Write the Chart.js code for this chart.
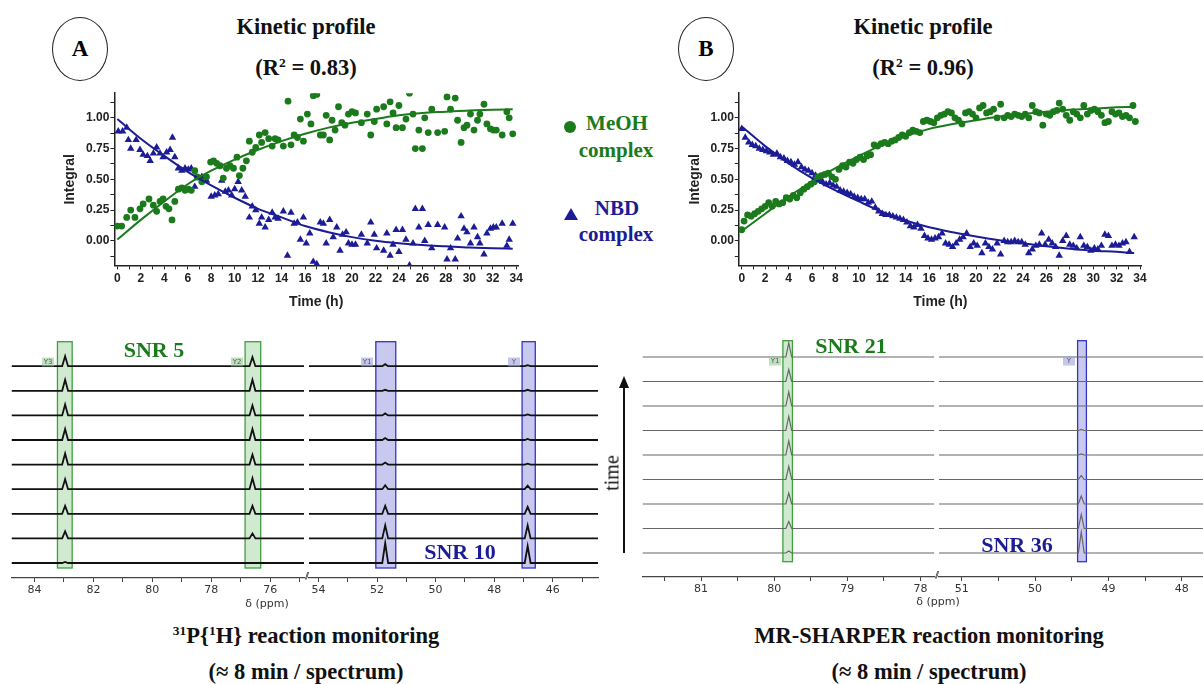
<!DOCTYPE html>
<html>
<head>
<meta charset="utf-8">
<script src="https://cdn.jsdelivr.net/npm/chart.js@4.4.1/dist/chart.umd.min.js"></script>
<style>
  body { margin: 0; background: #fff; }
  #page { position: relative; width: 1203px; height: 684px; overflow: hidden; background: #fff; }
  canvas { position: absolute; }
  .t { position: absolute; transform: translate(-50%, -50%); white-space: nowrap;
       font-family: "Liberation Serif", serif; font-weight: bold; color: #111; }
  .t sup { font-size: 60%; vertical-align: 0.6em; line-height: 0; }
  .big { font-size: 22.5px; }
  .leg { font-size: 21px; }
  .snr { font-size: 22px; }
  .green { color: #1b7a1b; }
  .blue { color: #1c1c96; }
  .ring { position: absolute; width: 54px; height: 62px; border: 1.3px solid #222; border-radius: 50%;
          transform: translate(-50%, -50%); font-family: "Liberation Serif", serif; font-weight: bold;
          font-size: 23px; display: flex; align-items: center; justify-content: center; }
  .ppm { position: absolute; transform: translate(-50%, -50%); font-family: "DejaVu Sans", sans-serif;
         font-size: 11px; color: #333; white-space: nowrap; }
  .tag { position: absolute; transform: translate(-50%, -50%); font-family: "DejaVu Sans", sans-serif;
         font-size: 7px; color: #555; width: 12px; height: 9px; line-height: 9px; text-align: center; }
  .tg { background: rgba(140, 200, 140, 0.55); }
  .tb { background: rgba(160, 160, 225, 0.6); }
</style>
</head>
<body>
<div id="page">
  <div class="ring" style="left:80px;top:49px;">A</div>
  <div class="ring" style="left:706px;top:49px;">B</div>
  <div class="t big" style="left:306px;top:27px;">Kinetic profile</div>
  <div class="t big" style="left:306px;top:68px;">(R<sup>2</sup> = 0.83)</div>
  <div class="t big" style="left:923px;top:27px;">Kinetic profile</div>
  <div class="t big" style="left:923px;top:68px;">(R<sup>2</sup> = 0.96)</div>

  <div style="position:absolute;left:564px;top:121px;width:12px;height:12px;border-radius:50%;background:#1b7a1b;"></div>
  <div class="t leg green" style="left:617px;top:123px;">MeOH</div>
  <div class="t leg green" style="left:616px;top:150px;">complex</div>
  <div style="position:absolute;left:564px;top:208px;width:0;height:0;border-left:7px solid transparent;border-right:7px solid transparent;border-bottom:12px solid #1c1c96;"></div>
  <div class="t leg blue" style="left:617px;top:208px;">NBD</div>
  <div class="t leg blue" style="left:616px;top:234px;">complex</div>

  <canvas id="kinA" width="482" height="230" style="left:58px;top:85px;width:482px;height:230px;"></canvas>
  <canvas id="kinB" width="482" height="230" style="left:683px;top:85px;width:482px;height:230px;"></canvas>

  <canvas id="specA1" width="310" height="270" style="left:0px;top:330px;width:310px;height:270px;"></canvas>
  <canvas id="specA2" width="300" height="270" style="left:304px;top:330px;width:300px;height:270px;"></canvas>
  <canvas id="specB1" width="304" height="270" style="left:636px;top:330px;width:304px;height:270px;"></canvas>
  <canvas id="specB2" width="269" height="270" style="left:934px;top:330px;width:269px;height:270px;"></canvas>

  <div class="tag tg" style="left:48px;top:362px;">Y3</div>
  <div class="tag tg" style="left:237px;top:362px;">Y2</div>
  <div class="tag tb" style="left:367px;top:362px;">Y1</div>
  <div class="tag tb" style="left:514px;top:362px;">Y</div>
  <div class="tag tg" style="left:775px;top:361px;">Y1</div>
  <div class="tag tb" style="left:1069px;top:361px;">Y</div>

  <div class="t snr green" style="left:154px;top:350px;">SNR 5</div>
  <div class="t snr blue" style="left:460px;top:552px;">SNR 10</div>
  <div class="t snr green" style="left:851px;top:346px;">SNR 21</div>
  <div class="t snr blue" style="left:1017px;top:545px;">SNR 36</div>

  <div class="ppm" style="left:306px;top:576px;font-size:9px;letter-spacing:-2px;">//</div>
  <div class="ppm" style="left:936px;top:575px;font-size:9px;letter-spacing:-2px;">//</div>
  <div class="ppm" style="left:267px;top:603px;">δ (ppm)</div>
  <div class="ppm" style="left:938px;top:601px;">δ (ppm)</div>

  <div style="position:absolute;left:623px;top:386px;width:1.5px;height:167px;background:#111;"></div>
  <div style="position:absolute;left:619px;top:376px;width:0;height:0;border-left:5px solid transparent;border-right:5px solid transparent;border-bottom:12px solid #111;"></div>
  <div class="t" style="left:612px;top:473px;font-size:20px;font-weight:normal;transform:translate(-50%,-50%) rotate(-90deg);">time</div>

  <div class="t big" style="left:306px;top:636px;"><sup>31</sup>P{<sup>1</sup>H} reaction monitoring</div>
  <div class="t big" style="left:306px;top:672px;">(≈ 8 min / spectrum)</div>
  <div class="t big" style="left:929px;top:636px;">MR-SHARPER reaction monitoring</div>
  <div class="t big" style="left:929px;top:672px;">(≈ 8 min / spectrum)</div>
</div>

<script>
"use strict";

// 1: kinetic data, [time (h), integral]
const meohA = [[0,0.12],[0.37,0.12],[0.8,0.19],[1.14,0.25],[1.5,0.19],[1.93,0.26],[2.2,0.30],[2.7,0.34],
  [3.07,0.29],[3.35,0.24],[3.64,0.32],[3.9,0.34],[4.15,0.28],[4.4,0.26],[4.66,0.17],[4.9,0.32],[5.2,0.42],
  [5.5,0.43],[5.77,0.41],[6.05,0.42],[6.3,0.41],[6.6,0.57],[6.8,0.52],[7.2,0.48],[7.6,0.52],[7.95,0.64],
  [8.2,0.65],[8.47,0.63],[8.75,0.61],[9.03,0.51],[9.3,0.59],[9.6,0.61],[9.9,0.59],[10.2,0.68],[10.4,0.53],
  [10.7,0.59],[11.0,0.65],[11.25,0.81],[11.5,0.72],[11.8,0.76],[12.1,0.86],[12.3,0.80],[12.6,0.88],[12.9,0.83],
  [13.2,0.77],[13.45,0.83],[13.7,0.82],[14.15,0.77],[14.55,1.135],[14.8,0.78],[15.07,0.86],[15.35,0.84],
  [15.6,0.99],[15.86,0.81],[16.2,1.03],[16.5,0.95],[16.7,1.18],[17.0,1.19],[17.3,0.86],[17.56,0.86],[17.8,1.02],
  [18.1,0.82],[18.3,0.98],[18.56,0.90],[18.85,1.09],[19.13,0.96],[19.4,0.94],[19.7,1.03],[20.0,1.05],[20.3,1.04],
  [20.8,0.96],[21.3,1.03],[21.6,0.86],[21.9,0.97],[22.1,1.07],[22.7,1.09],[22.97,0.95],[23.25,1.13],[23.5,1.04],
  [23.76,0.92],[24.0,1.10],[24.3,0.92],[24.6,0.99],[24.9,1.2],[25.2,1.03],[25.4,0.75],[25.7,0.90],[26.0,0.75],
  [26.2,1.0],[26.5,0.88],[26.8,1.07],[27.3,0.88],[27.9,0.89],[28.1,1.17],[28.4,1.07],[28.8,1.16],[29.0,0.98],
  [29.3,0.80],[29.55,0.92],[29.8,0.94],[30.1,1.03],[30.4,0.90],[30.7,0.98],[30.9,1.03],[31.25,1.11],[31.5,0.95],
  [31.8,0.91],[32.05,0.90],[32.3,0.90],[32.8,0.86],[33.2,1.05],[33.4,1.0],[33.7,0.87]];

const nbdA = [[0.08,0.89],[0.45,0.89],[0.8,0.92],[0.94,0.82],[1.14,0.75],[1.6,0.82],[1.93,0.74],[2.2,0.70],
  [2.56,0.69],[2.8,0.65],[3.07,0.71],[3.35,0.76],[3.64,0.71],[3.9,0.68],[4.2,0.72],[4.5,0.74],[4.7,0.84],
  [4.9,0.68],[5.2,0.59],[5.5,0.57],[5.77,0.59],[6.05,0.58],[6.3,0.59],[6.6,0.44],[6.9,0.51],[7.2,0.52],
  [7.6,0.49],[8.0,0.36],[8.3,0.37],[8.6,0.38],[8.9,0.49],[9.2,0.40],[9.47,0.41],[9.75,0.37],[10.0,0.42],
  [10.3,0.48],[10.6,0.41],[10.9,0.36],[11.25,0.19],[11.5,0.28],[11.8,0.25],[12.1,0.14],[12.3,0.19],[12.6,0.11],
  [12.9,0.17],[13.2,0.23],[13.45,0.19],[13.7,0.18],[14.15,0.24],[14.5,-0.12],[14.8,0.23],[15.07,0.14],
  [15.35,0.15],[15.6,0.01],[15.86,0.19],[16.1,-0.02],[16.4,0.06],[16.7,-0.17],[17.0,-0.19],[17.3,0.15],
  [17.56,0.14],[17.8,-0.02],[18.1,0.17],[18.4,0.03],[18.7,0.11],[18.98,-0.08],[19.2,0.05],[19.5,0.07],
  [19.7,-0.02],[20.0,-0.03],[20.3,-0.03],[20.8,0.05],[21.3,-0.02],[21.6,0.15],[21.9,0.05],[22.1,-0.06],
  [22.7,-0.08],[22.97,0.06],[23.25,-0.12],[23.5,-0.03],[23.76,0.09],[24.0,-0.09],[24.3,0.09],[24.6,0.01],
  [24.9,-0.2],[25.2,-0.02],[25.4,0.26],[25.7,0.11],[26.0,0.26],[26.2,0.0],[26.5,0.13],[26.8,-0.06],[27.3,0.13],
  [27.9,0.11],[28.1,-0.15],[28.4,-0.06],[28.8,-0.15],[29.0,0.02],[29.3,0.20],[29.55,0.10],[29.8,0.07],
  [30.1,-0.02],[30.4,0.11],[30.7,0.03],[30.9,-0.02],[31.25,-0.11],[31.5,0.06],[31.8,0.10],[32.05,0.11],
  [32.3,0.11],[32.8,0.14],[33.2,-0.04],[33.4,0.01],[33.7,0.14]];

const meohB = [[0,0.09],[0.2,0.16],[0.5,0.21],[0.8,0.20],[1.1,0.22],[1.4,0.24],[1.7,0.26],[2.0,0.28],[2.3,0.31],
  [2.6,0.28],[2.9,0.32],[3.2,0.30],[3.5,0.31],[3.8,0.35],[4.1,0.34],[4.4,0.37],[4.7,0.35],[5.0,0.39],[5.3,0.42],
  [5.6,0.44],[5.9,0.46],[6.2,0.48],[6.5,0.52],[6.8,0.53],[7.1,0.54],[7.4,0.55],[7.7,0.52],[8.0,0.50],[8.3,0.58],
  [8.6,0.61],[8.9,0.60],[9.2,0.64],[9.5,0.63],[9.8,0.66],[10.1,0.68],[10.4,0.66],[10.7,0.69],[11.0,0.70],
  [11.3,0.78],[11.6,0.77],[11.9,0.79],[12.2,0.80],[12.5,0.79],[12.8,0.81],[13.1,0.82],[13.4,0.84],[13.7,0.86],
  [14.0,0.85],[14.3,0.88],[14.6,0.90],[14.9,0.89],[15.2,0.88],[15.5,0.97],[15.8,0.98],[16.1,0.97],[16.4,0.96],
  [16.7,1.00],[17.0,1.02],[17.3,1.03],[17.6,1.05],[17.9,1.04],[18.2,1.00],[18.5,0.98],[18.8,0.95],[19.1,1.04],
  [19.4,1.05],[19.7,1.03],[20.0,1.00],[20.3,1.08],[20.6,1.10],[20.9,1.04],[21.2,1.05],[21.5,1.07],[21.8,1.00],
  [22.1,1.11],[22.4,1.00],[22.7,1.02],[23.0,1.01],[23.3,1.03],[23.6,1.02],[23.9,1.01],[24.2,1.03],[24.5,1.00],
  [24.8,1.10],[25.1,1.05],[25.4,1.04],[25.7,0.94],[26.0,1.03],[26.3,1.02],[26.6,1.05],[26.9,1.06],[27.1,1.12],
  [27.4,1.07],[27.7,1.02],[28.0,0.98],[28.3,1.05],[28.6,1.03],[28.9,1.00],[29.2,1.10],[29.5,1.03],[29.8,1.06],
  [30.1,1.07],[30.4,1.05],[30.7,1.02],[31.0,0.96],[31.3,0.97],[31.6,1.05],[31.9,1.03],[32.2,1.04],[32.5,1.01],
  [32.8,1.02],[33.1,1.00],[33.4,1.10],[33.6,0.97]];

const nbdB = [[0,0.91],[0.3,0.84],[0.6,0.80],[0.9,0.78],[1.2,0.77],[1.5,0.75],[1.8,0.74],[2.1,0.73],[2.4,0.72],
  [2.7,0.70],[3.0,0.71],[3.3,0.68],[3.6,0.67],[3.9,0.65],[4.2,0.64],[4.5,0.62],[4.8,0.64],[5.1,0.60],[5.4,0.58],
  [5.7,0.57],[6.0,0.55],[6.3,0.53],[6.6,0.50],[6.9,0.48],[7.2,0.46],[7.5,0.47],[7.8,0.45],[8.1,0.44],[8.4,0.41],
  [8.7,0.40],[9.0,0.39],[9.3,0.38],[9.6,0.36],[9.9,0.35],[10.2,0.34],[10.5,0.34],[10.8,0.31],[11.1,0.32],
  [11.4,0.27],[11.7,0.24],[12.0,0.22],[12.3,0.21],[12.6,0.21],[12.9,0.20],[13.2,0.19],[13.5,0.18],[13.8,0.17],
  [14.1,0.15],[14.4,0.12],[14.7,0.11],[15.0,0.13],[15.3,0.10],[15.6,0.04],[15.9,0.02],[16.2,0.01],[16.5,0.02],
  [16.8,0.03],[17.1,0.06],[17.4,-0.02],[17.7,-0.03],[18.0,-0.05],[18.3,-0.02],[18.6,0.01],[18.9,0.03],[19.2,0.06],
  [19.5,-0.05],[19.8,-0.02],[20.1,-0.04],[20.5,-0.10],[20.8,-0.02],[21.1,-0.05],[21.4,-0.07],[21.8,-0.02],
  [22.1,-0.11],[22.4,0.00],[22.7,-0.01],[23.0,-0.01],[23.3,0.00],[23.6,-0.01],[23.9,-0.01],[24.2,-0.03],
  [24.5,-0.10],[24.8,-0.07],[25.1,-0.04],[25.4,-0.03],[25.6,0.06],[25.9,-0.03],[26.2,0.01],[26.5,-0.02],
  [26.8,-0.05],[27.1,-0.12],[27.4,0.00],[27.7,0.04],[28.0,-0.03],[28.3,-0.04],[28.6,-0.06],[28.9,0.03],
  [29.2,-0.04],[29.5,-0.05],[29.8,-0.08],[30.1,-0.06],[30.4,-0.07],[30.7,-0.04],[31.0,0.05],[31.3,0.04],
  [31.6,-0.04],[31.9,-0.03],[32.2,-0.04],[32.5,-0.02],[32.8,-0.01],[33.1,-0.09],[33.5,0.03]];

// 2: fitted curves
const fitTimeA = [0,2,4,6,8,10,12,14,16,18,20,22,24,26,28,30,32,33.7];
const fitMeohA = [0.01,0.17,0.32,0.46,0.57,0.66,0.74,0.81,0.87,0.92,0.96,0.99,1.02,1.04,1.05,1.06,1.065,1.07];
const fitNbdA = [0.99,0.83,0.69,0.56,0.45,0.35,0.26,0.19,0.12,0.07,0.03,0.0,-0.02,-0.035,-0.045,-0.055,-0.06,-0.065];
const fitTimeB = [0,2,4,6,8,10,12,14,16,18,20,22,24,26,28,30,32,33.5];
const fitMeohB = [0.08,0.22,0.36,0.48,0.59,0.69,0.78,0.85,0.91,0.95,0.98,1.01,1.03,1.05,1.065,1.075,1.085,1.09];
const fitNbdB = [0.93,0.77,0.63,0.51,0.41,0.32,0.235,0.165,0.11,0.07,0.035,0.005,-0.02,-0.045,-0.065,-0.08,-0.09,-0.10];

// 3: spectra, peak positions (ppm) and peak heights per spectrum, first = earliest (bottom)
const peakY3A = 82.96, peakY2A = 76.6, peakY1A = 51.72, peakYA = 46.86;
const heightsY3A = [1, 7, 8, 10, 11, 11, 11, 11, 10];
const heightsY2A = [0, 5, 8, 11, 10, 11, 10, 11, 9];
const heightsY1A = [20, 13, 8, 4, 2, 2, 2, 1, 2];
const heightsYA = [17, 13, 7, 3.5, 1, 1, 1, 1, 1];
const peakY1B = 79.80, peakYB = 49.37;
const heightsY1B = [2, 7, 11, 13, 14, 14, 14, 12, 14];
const heightsYB = [21, 14, 8, 4, 1, 1, 0, 0, 0];

const GREEN = '#1b7a1b';
const BLUE = '#1c1c96';
Chart.defaults.font.family = '"Liberation Sans", Arial, sans-serif';
Chart.defaults.animation = false;

function kineticChart(id, meoh, nbd, fitT, fitMeoh, fitNbd, yWidth, padRight) {
  const pts = arr => arr.map(p => ({x: p[0], y: p[1]}));
  const fit = vals => fitT.map((t, i) => ({x: t, y: vals[i]}));
  const axisColor = '#222';
  return new Chart(document.getElementById(id), {
    type: 'scatter',
    data: {
      datasets: [
        {type: 'line', data: fit(fitMeoh), borderColor: GREEN, borderWidth: 2, pointRadius: 0, cubicInterpolationMode: 'monotone', fill: false},
        {type: 'line', data: fit(fitNbd), borderColor: BLUE, borderWidth: 2, pointRadius: 0, cubicInterpolationMode: 'monotone', fill: false},
        {data: pts(meoh), pointStyle: 'circle', pointRadius: 3.4, backgroundColor: GREEN, borderWidth: 0},
        {data: pts(nbd), pointStyle: 'triangle', pointRadius: 4.3, backgroundColor: BLUE, borderColor: BLUE, borderWidth: 0}
      ]
    },
    options: {
      responsive: false,
      layout: {padding: {top: 8.2, right: padRight, left: 0, bottom: 0}},
      plugins: {legend: {display: false}, tooltip: {enabled: false}},
      scales: {
        x: {
          type: 'linear', min: -0.25, max: 34.15,
          afterFit: s => { s.height = 49.6; },
          ticks: {stepSize: 1, includeBounds: false, autoSkip: false, maxRotation: 0, padding: 2,
                  color: axisColor, font: {size: 12, weight: 'bold'},
                  callback: v => (v % 2 === 0 ? v : '')},
          grid: {drawOnChartArea: false, tickLength: 4, color: axisColor},
          border: {color: axisColor, width: 1.5},
          title: {display: true, text: 'Time (h)', color: axisColor, font: {size: 14, weight: 'bold'}, padding: {top: 4, bottom: 4}}
        },
        y: {
          min: -0.2, max: 1.2,
          afterFit: s => { s.width = yWidth; },
          ticks: {stepSize: 0.125, includeBounds: false, autoSkip: false, padding: 1, color: axisColor,
                  font: {size: 12, weight: 'bold'},
                  callback: v => (Math.abs(v * 4 - Math.round(v * 4)) < 1e-6 && v > -1e-6 && v < 1.001 ? v.toFixed(2) : '')},
          grid: {drawOnChartArea: false, tickLength: 4, color: axisColor},
          border: {color: axisColor, width: 1.5},
          title: {display: true, text: 'Integral', color: axisColor, font: {size: 14, weight: 'bold'}, padding: 4}
        }
      }
    }
  });
}

const bandPlugin = {
  id: 'bands',
  beforeDatasetsDraw(chart, args, opts) {
    const {ctx} = chart;
    const x = chart.scales.x, y = chart.scales.y;
    (opts.list || []).forEach(b => {
      const x1 = x.getPixelForValue(b.from), x2 = x.getPixelForValue(b.to);
      const y1 = y.getPixelForValue(opts.top), y2 = y.getPixelForValue(opts.bottom);
      ctx.save();
      ctx.fillStyle = b.fill;
      ctx.fillRect(Math.min(x1, x2), y1, Math.abs(x2 - x1), y2 - y1);
      ctx.strokeStyle = b.edge;
      ctx.lineWidth = 1.3;
      ctx.strokeRect(Math.min(x1, x2), y1, Math.abs(x2 - x1), y2 - y1);
      ctx.restore();
    });
  }
};

function spectrumChart(id, c) {
  const datasets = [];
  for (let i = 0; i < 9; i++) {
    const base = i * c.spacing;
    const pts = [{x: c.max, y: base}];
    c.peaks.forEach(pk => {
      pts.push({x: pk.ppm + c.half, y: base}, {x: pk.ppm, y: base + pk.heights[i]}, {x: pk.ppm - c.half, y: base});
    });
    pts.push({x: c.min, y: base});
    datasets.push({data: pts, borderColor: c.color, borderWidth: c.width, pointRadius: 0, tension: 0, fill: false});
  }
  return new Chart(document.getElementById(id), {
    type: 'line',
    data: {datasets},
    plugins: [bandPlugin],
    options: {
      responsive: false,
      layout: {padding: {top: 8, left: c.padLeft, right: c.padRight, bottom: 0}},
      plugins: {legend: {display: false}, tooltip: {enabled: false},
                bands: {list: c.bands, top: c.bandTop, bottom: c.bandBottom}},
      scales: {
        x: {
          type: 'linear', reverse: true, min: c.min, max: c.max,
          afterFit: s => { s.height = c.axisH; },
          ticks: {stepSize: c.step, includeBounds: false, autoSkip: false, maxRotation: 0, padding: 2,
                  color: '#333', font: {family: '"DejaVu Sans", sans-serif', size: 11},
                  callback: v => (Math.abs(v / c.labelEvery - Math.round(v / c.labelEvery)) < 1e-6 ? Math.round(v) : '')},
          grid: {drawOnChartArea: false, tickLength: 4, color: '#444'},
          border: {color: '#444', width: 1.2}
        },
        y: {display: false, min: c.yMin, max: c.yMax}
      }
    }
  });
}

kineticChart('kinA', meohA, nbdA, fitTimeA, fitMeohA, fitNbdA, 56.4, 22);
kineticChart('kinB', meohB, nbdB, fitTimeB, fitMeohB, fitNbdB, 55.8, 23.2);

const greenBand = {fill: 'rgba(120, 195, 120, 0.35)', edge: '#3f9f3f'};
const blueBand = {fill: 'rgba(120, 120, 215, 0.4)', edge: '#3434c8'};

const specA = {spacing: 24.6, yMin: -15, yMax: 225, bandTop: 221.3, bandBottom: -5, axisH: 22, half: 0.1,
               step: 1, labelEvery: 2, color: '#111', width: 1.8};
spectrumChart('specA1', Object.assign({}, specA, {
  min: 74.85, max: 84.78, padLeft: 11.5, padRight: 6,
  peaks: [{ppm: peakY3A, heights: heightsY3A}, {ppm: peakY2A, heights: heightsY2A}],
  bands: [Object.assign({from: 83.22, to: 82.72}, greenBand), Object.assign({from: 76.85, to: 76.32}, greenBand)]
}));
spectrumChart('specA2', Object.assign({}, specA, {
  min: 44.46, max: 54.32, padLeft: 5, padRight: 6,
  peaks: [{ppm: peakY1A, heights: heightsY1A}, {ppm: peakYA, heights: heightsYA}],
  bands: [Object.assign({from: 52.04, to: 51.36}, blueBand), Object.assign({from: 47.05, to: 46.6}, blueBand)]
}));

const specB = {spacing: 24.5, yMin: -24, yMax: 215, bandTop: 212.3, bandBottom: -8.7, axisH: 23, half: 0.04,
               step: 0.5, labelEvery: 1, color: '#666', width: 1.2};
spectrumChart('specB1', Object.assign({}, specB, {
  min: 77.81, max: 81.8, padLeft: 6.5, padRight: 5.7,
  peaks: [{ppm: peakY1B, heights: heightsY1B}],
  bands: [Object.assign({from: 79.88, to: 79.75}, greenBand)]
}));
spectrumChart('specB2', Object.assign({}, specB, {
  min: 47.71, max: 51.31, padLeft: 5, padRight: 0,
  peaks: [{ppm: peakYB, heights: heightsYB}],
  bands: [Object.assign({from: 49.42, to: 49.30}, blueBand)]
}));
</script>
</body>
</html>
